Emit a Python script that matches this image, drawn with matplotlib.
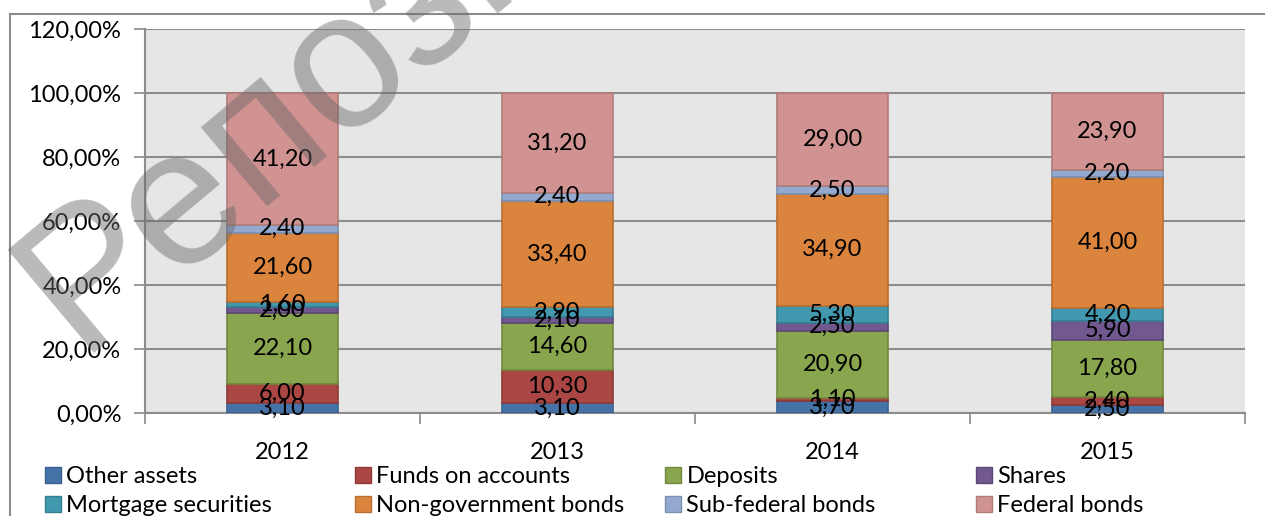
import numpy as np
import matplotlib.pyplot as plt
from matplotlib.patches import Patch
from matplotlib.lines import Line2D
import matplotlib.ticker as ticker

plt.rcParams['font.family'] = ['Lato', 'DejaVu Sans']

years = ['2012', '2013', '2014', '2015']
series_names = ['Other assets', 'Funds on accounts', 'Deposits', 'Shares',
                'Mortgage securities', 'Non-government bonds', 'Sub-federal bonds', 'Federal bonds']
other_assets = [3.10, 3.10, 3.70, 2.50]
funds_on_accounts = [6.00, 10.30, 1.10, 2.40]
deposits = [22.10, 14.60, 20.90, 17.80]
shares = [2.00, 2.10, 2.50, 5.90]
mortgage = [1.60, 2.90, 5.30, 4.20]
non_gov_bonds = [21.60, 33.40, 34.90, 41.00]
sub_federal_bonds = [2.40, 2.40, 2.50, 2.20]
federal_bonds = [41.20, 31.20, 29.00, 23.90]

series = [other_assets, funds_on_accounts, deposits, shares,
          mortgage, non_gov_bonds, sub_federal_bonds, federal_bonds]
colors = ['#4572A7', '#AA4643', '#89A54E', '#71588F', '#4198AF', '#DB843D', '#93A9CF', '#D19392']
edges = ['#3A6090', '#8E3A38', '#72893F', '#5D4877', '#357F92', '#B86E32', '#7C90B0', '#B07C7B']
FS = 17

fig = plt.figure(figsize=(12.65, 5.16), dpi=100)
ax = fig.add_axes([145 / 1265, 103 / 516, 1100 / 1265, 384 / 516])
ax.set_facecolor('#E6E6E6')

data = np.array(series)
totals = data.sum(axis=0)
pct = data / totals * 100
x = np.arange(len(years))
bottom = np.zeros(len(years))
for i, name in enumerate(series_names):
    ax.bar(x, pct[i], bottom=bottom, width=0.407, color=colors[i], edgecolor=edges[i],
           linewidth=1.2, zorder=3, label=name)
    for j in range(len(years)):
        ax.text(x[j], bottom[j] + pct[i][j] / 2, f'{data[i][j]:.2f}'.replace('.', ','),
                ha='center', va='center', fontsize=FS, color='black', zorder=5)
    bottom += pct[i]

ax.set_xlim(-0.5, 3.5)
ax.set_ylim(0, 120)
ax.set_yticks(np.arange(0, 121, 20))
ax.yaxis.set_major_formatter(ticker.FuncFormatter(lambda v, p: f'{v:.2f}%'.replace('.', ',')))
ax.set_xticks(x)
ax.set_xticklabels(years)
ax.set_xticks(np.arange(-0.5, 3.6, 1), minor=True)
ax.tick_params(axis='x', which='major', length=0, pad=21, labelsize=FS)
ax.tick_params(axis='x', which='minor', length=8, color='#8A8A8A', width=1.2)
ax.tick_params(axis='y', length=8, color='#8A8A8A', width=1.2, labelsize=FS, pad=9)
ax.grid(axis='y', color='#8C8C8C', linewidth=1.5, zorder=1)
ax.set_axisbelow(True)
for s in ['top', 'right']:
    ax.spines[s].set_visible(False)
for s in ['left', 'bottom']:
    ax.spines[s].set_color('#8C8C8C')
    ax.spines[s].set_linewidth(1.5)

# legend: 4 columns of 2 rows, evenly spaced like the original
handles = [Patch(facecolor=colors[i], edgecolor=edges[i], label=series_names[i]) for i in range(8)]
col_x = [45, 355, 665, 976]
for c in range(4):
    fig.legend(handles=[handles[c], handles[c + 4]], loc='upper left',
               bbox_to_anchor=(col_x[c] / 1265, 1 - 466 / 516), frameon=False,
               fontsize=FS, handlelength=0.66, handleheight=0.66, handletextpad=0.25,
               labelspacing=0.35, borderpad=0, borderaxespad=0)

# outer chart border
fig.add_artist(Line2D([10 / 1265, 10 / 1265], [0, 1 - 14 / 516], color='#8C8C8C', lw=1.5))
fig.add_artist(Line2D([10 / 1265, 1], [1 - 14 / 516, 1 - 14 / 516], color='#8C8C8C', lw=1.5))

# watermark
fig.text(78 / 1265, 1 - 352 / 516, 'Репозиторий', rotation=40, rotation_mode='anchor',
         fontsize=140, color='#666666', alpha=0.45, ha='left', va='baseline', zorder=10,
         family=['Liberation Sans'])

fig.savefig('out.png', dpi=100)
